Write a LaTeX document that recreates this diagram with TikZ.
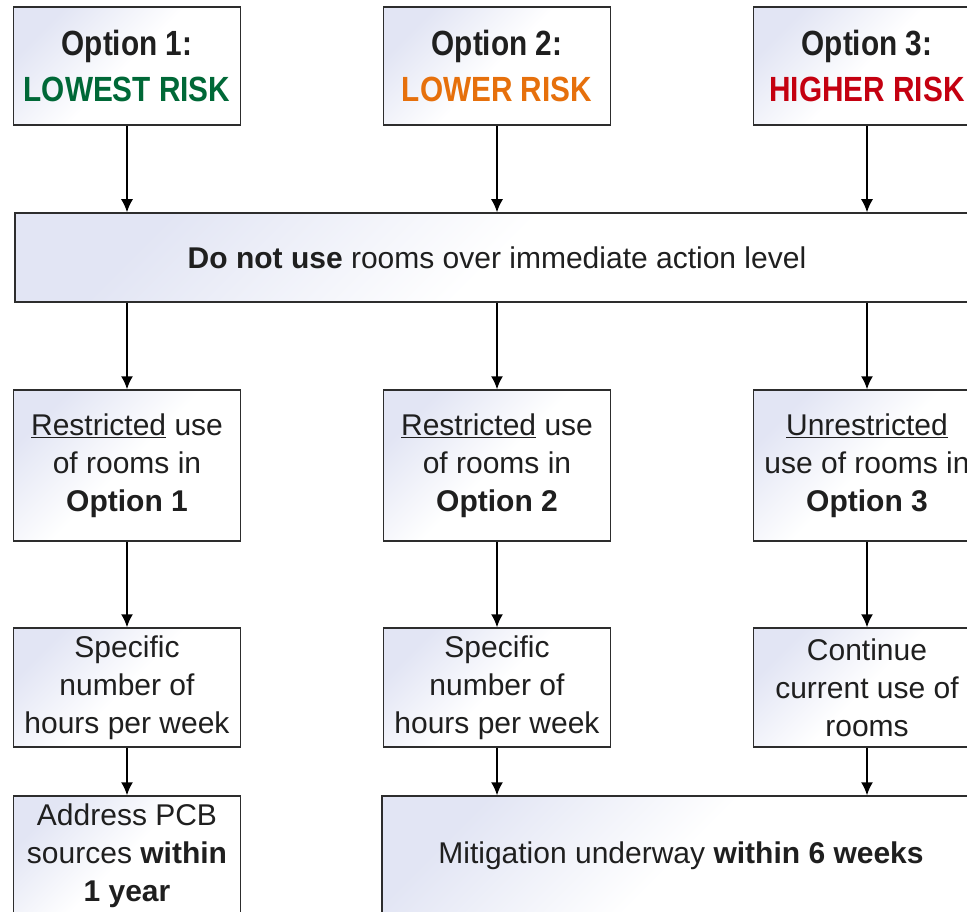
\documentclass[tikz,border=0pt]{standalone}
\usepackage{xcolor}
\usepackage{fontspec}
\setmainfont{Liberation Sans}
\newfontfamily\condfont[FakeStretch=0.85]{Liberation Sans}
\usepackage{tikz}
\usetikzlibrary{positioning}
\usetikzlibrary{arrows.meta}
\definecolor{lowgreen}{RGB}{0,104,55}
\definecolor{loworange}{RGB}{230,112,12}
\definecolor{highred}{RGB}{196,0,16}
\definecolor{boxtint}{RGB}{226,229,244}
\definecolor{boxline}{RGB}{45,45,45}
\tikzset{edge/.style = {->,> = {Latex[length=13pt,width=12pt]}}}

\begin{document}
\begin{tikzpicture}[x=1pt,y=1pt,node distance=370pt,line width=1.5pt,
    box/.style={draw=boxline,top color=boxtint,bottom color=white,middle color=white,shading angle=45,
        align=center,inner sep=0pt,minimum width=227pt,text=black!88,
        font=\fontsize{30}{38}\selectfont},
    title/.style={box,minimum height=118pt,font=\condfont\bfseries\fontsize{35}{46}\selectfont}]
            \useasboundingbox (0,0) rectangle (967,-912);
            \clip (0,0) rectangle (967,-912);

            % risk options
            \node[title] (o1) at (127,-66) {Option 1:\\\textcolor{lowgreen}{LOWEST RISK}};
            \node[title] (o2) [right of=o1] {Option 2:\\\textcolor{loworange}{LOWER RISK}};
            \node[title] (o3) [right of=o2] {Option 3:\\\textcolor{highred}{HIGHER RISK}};

            \node[box,minimum width=964pt,minimum height=89pt] (donot) at (497,-257.5)
                {\textbf{Do not use} rooms over immediate action level};

            % use of rooms
            \node[box,minimum height=151pt] (r1) at (127,-465.5) {\underline{Restricted} use\\of rooms in\\\textbf{Option 1}};
            \node[box,minimum height=151pt] (r2) [right of=r1] {\underline{Restricted} use\\of rooms in\\\textbf{Option 2}};
            \node[box,minimum height=151pt] (r3) [right of=r2] {\underline{Unrestricted}\\use of rooms in\\\textbf{Option 3}};

            \node[box,minimum height=119pt] (h1) at (127,-687.5) {Specific\\number of\\hours per week};
            \node[box,minimum height=119pt] (h2) [right of=h1] {Specific\\number of\\hours per week};
            \node[box,minimum height=119pt] (h3) [right of=h2] {Continue\\current use of\\rooms};

            % deadlines
            \node[box,minimum height=120pt] (pcb) at (127,-856) {Address PCB\\sources \textbf{within}\\\textbf{1 year}};
            \node[box,minimum width=598pt,minimum height=120pt] (mit) at (681,-856)
                {Mitigation underway \textbf{within 6 weeks}};

            \path[edge]
                (o1) edge (o1 |- donot.north)
                (o2) edge (o2 |- donot.north)
                (o3) edge (o3 |- donot.north)
                (donot.south -| r1) edge (r1)
                (donot.south -| r2) edge (r2)
                (donot.south -| r3) edge (r3)
                (r1) edge (h1)
                (r2) edge (h2)
                (r3) edge (h3)
                (h1) edge (pcb)
                (h2) edge (h2 |- mit.north)
                (h3) edge (h3 |- mit.north)
                ;
        \end{tikzpicture}
\end{document}
